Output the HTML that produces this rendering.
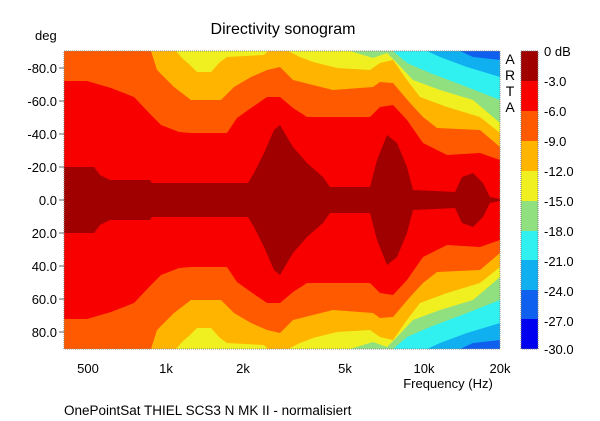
<!DOCTYPE html>
<html><head><meta charset="utf-8"><style>
html,body{margin:0;padding:0;background:#fff;}
svg{display:block;font-family:"Liberation Sans",Arial,sans-serif;}
</style></head><body>
<svg width="600" height="421" viewBox="0 0 600 421" xmlns="http://www.w3.org/2000/svg">
<defs><clipPath id="c"><rect x="64" y="51" width="436" height="298"/></clipPath></defs>
<g clip-path="url(#c)">
<rect x="60" y="45" width="450" height="310" fill="#1060f0"/>
<polygon fill="#10b0f0" points="60,51 64,51 460,51 473,57 500,60 510,60 510,340 500,340 473,343 460,349 64,349 60,349"/>
<polygon fill="#30f0f0" points="60,51 427,51 440,57 467,67 500,77 510,77 510,323 500,323 467,333 440,343 427,349 60,349"/>
<polygon fill="#90e080" points="60,51 393,51 407,63 430,73 467,87 500,100 510,100 510,300 500,300 467,313 430,327 407,337 393,349 60,349"/>
<polygon fill="#f0f020" points="60,51 350,51 373,58 387,53 397,63 413,80 440,90 473,100 500,123 510,123 510,277 500,277 473,300 440,310 413,320 397,337 387,347 373,342 350,349 60,349"/>
<polygon fill="#ffb400" points="60,51 176,51 182,58 190,65 197,72 211,72 220,62 227,57 264,55 268,51 288,51 300,57 313,62 337,68 370,70 380,63 393,60 407,80 420,97 447,107 480,117 500,133 510,133 510,267 500,267 480,283 447,293 420,303 407,320 393,340 380,337 370,330 337,332 313,338 300,343 288,349 268,349 264,345 227,343 220,338 211,328 197,328 190,335 182,342 176,349 60,349"/>
<polygon fill="#ff5a00" points="60,51 151,51 157,70 174,87 191,100 221,100 234,87 251,77 267,70 280,67 293,80 333,90 373,87 380,82 393,83 410,103 423,117 437,128 480,130 500,147 510,147 510,253 500,253 480,270 437,272 423,283 410,297 393,317 380,318 373,313 333,310 293,320 280,333 267,330 251,323 234,313 221,300 191,300 174,313 157,330 151,349 60,349"/>
<polygon fill="#f80000" points="60,81 87,81 111,88 134,97 151,115 161,125 179,132 191,133 227,133 237,118 251,108 267,97 280,97 293,108 307,117 370,117 380,107 393,105 407,120 423,143 447,155 480,153 500,160 510,160 510,240 500,240 480,247 447,245 423,257 407,280 393,295 380,293 370,283 307,283 293,292 280,303 267,303 251,292 237,282 227,267 191,267 179,268 161,275 151,285 134,303 111,312 87,319 60,319"/>
<polygon fill="#a00000" points="60,167 94,167 100,175 110,180 150,180 152,183 248,183 254,173 264,153 274,130 280,125 293,147 307,163 323,177 330,187 370,187 377,160 387,135 397,143 407,167 413,190 455,192 462,177 473,173 483,183 490,197 500,199 510,199 510,201 500,201 490,203 483,217 473,227 462,223 455,208 413,210 407,233 397,257 387,265 377,240 370,213 330,213 323,223 307,237 293,253 280,275 274,270 264,247 254,227 248,217 152,217 150,220 110,220 100,225 94,233 60,233"/>
</g>
<rect x="64" y="51" width="436" height="298" fill="none" stroke="#888" stroke-dasharray="1,1"/>
<text x="283" y="34" font-size="16" text-anchor="middle">Directivity sonogram</text>
<text x="35" y="40" font-size="13">deg</text>
<g font-size="13" text-anchor="end">
<text x="57" y="73">-80.0</text><text x="57" y="106">-60.0</text><text x="57" y="139">-40.0</text>
<text x="57" y="172">-20.0</text><text x="57" y="205">0.0</text><text x="57" y="238">20.0</text>
<text x="57" y="271">40.0</text><text x="57" y="304">60.0</text><text x="57" y="337">80.0</text>
</g>
<g stroke="#666" stroke-width="1">
<line x1="59" y1="68" x2="64" y2="68"/><line x1="59" y1="101" x2="64" y2="101"/><line x1="59" y1="134" x2="64" y2="134"/>
<line x1="59" y1="167" x2="64" y2="167"/><line x1="59" y1="200" x2="64" y2="200"/><line x1="59" y1="233" x2="64" y2="233"/>
<line x1="59" y1="266" x2="64" y2="266"/><line x1="59" y1="299" x2="64" y2="299"/><line x1="59" y1="332" x2="64" y2="332"/>
</g>
<g font-size="13" text-anchor="middle">
<text x="88" y="373">500</text><text x="166" y="373">1k</text><text x="243" y="373">2k</text>
<text x="345" y="373">5k</text><text x="424" y="373">10k</text><text x="500" y="373">20k</text>
</g>
<text x="448" y="388" font-size="13" text-anchor="middle">Frequency (Hz)</text>
<text x="64" y="415" font-size="13.5">OnePointSat THIEL SCS3 N MK II - normalisiert</text>
<g font-size="14" text-anchor="middle">
<text x="510" y="64">A</text><text x="510" y="80">R</text><text x="510" y="96">T</text><text x="510" y="112">A</text>
</g>
<g>
<rect x="521" y="51" width="17" height="30" fill="#a00000"/>
<rect x="521" y="81" width="17" height="30" fill="#f80000"/>
<rect x="521" y="111" width="17" height="30" fill="#ff5a00"/>
<rect x="521" y="141" width="17" height="30" fill="#ffb400"/>
<rect x="521" y="171" width="17" height="30" fill="#f0f020"/>
<rect x="521" y="201" width="17" height="30" fill="#90e080"/>
<rect x="521" y="231" width="17" height="29" fill="#30f0f0"/>
<rect x="521" y="260" width="17" height="30" fill="#10b0f0"/>
<rect x="521" y="290" width="17" height="29" fill="#1060f0"/>
<rect x="521" y="319" width="17" height="30" fill="#0000f0"/>
<rect x="521" y="51" width="17" height="298" fill="none" stroke="#777" stroke-dasharray="1,1"/>
</g>
<g font-size="13">
<text x="544" y="56">0 dB</text><text x="544" y="86">-3.0</text><text x="544" y="116">-6.0</text>
<text x="544" y="146">-9.0</text><text x="544" y="176">-12.0</text><text x="544" y="206">-15.0</text>
<text x="544" y="236">-18.0</text><text x="544" y="266">-21.0</text><text x="544" y="296">-24.0</text>
<text x="544" y="326">-27.0</text><text x="544" y="354">-30.0</text>
</g>
</svg>
</body></html>
